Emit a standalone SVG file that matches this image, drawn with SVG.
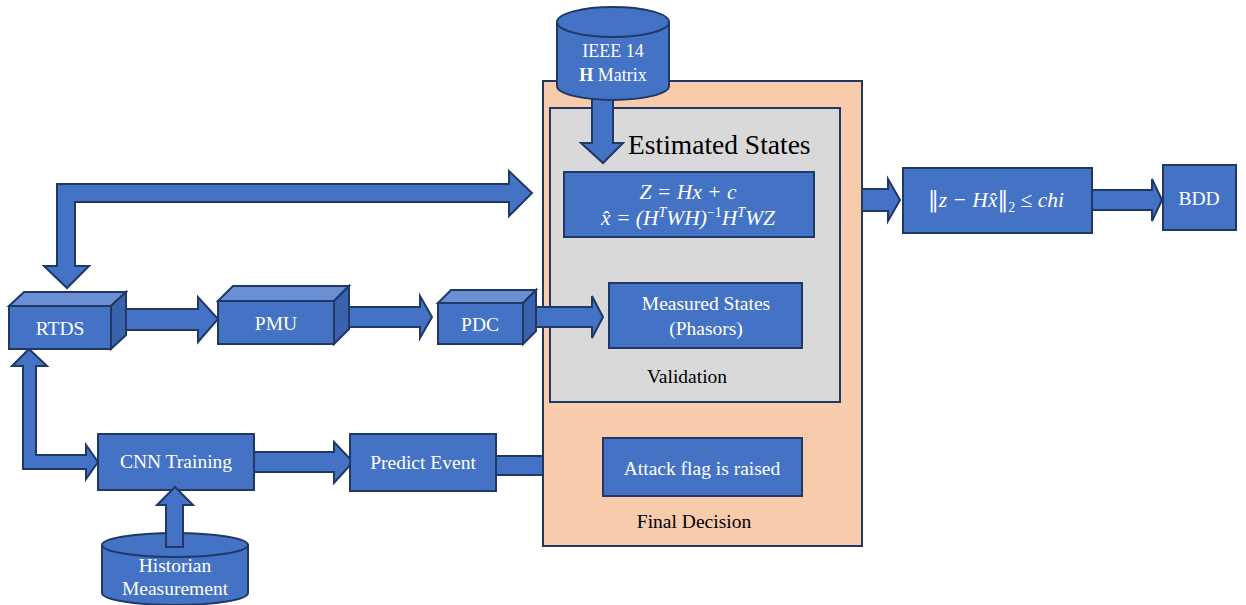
<svg xmlns="http://www.w3.org/2000/svg" width="1246" height="605" viewBox="0 0 1246 605">
<defs>
<style>
.blk{fill:#4472C4;stroke:#1F3864;stroke-width:2;stroke-linejoin:miter}
.top{fill:#6A8FD3;stroke:#1F3864;stroke-width:2;stroke-linejoin:miter}
.side{fill:#3A62AD;stroke:#1F3864;stroke-width:2;stroke-linejoin:miter}
.arr{fill:#4472C4;stroke:#1F3864;stroke-width:2;stroke-linejoin:miter}
.wt{font-family:"Liberation Serif","Times New Roman",serif;font-size:19.5px;fill:#FFFFFF;text-anchor:middle}
.bt{font-family:"Liberation Serif","Times New Roman",serif;font-size:19.5px;fill:#000000;text-anchor:middle}
.math{font-family:"Liberation Serif","DejaVu Serif",serif;font-style:italic;font-size:21.5px;fill:#FFFFFF;text-anchor:middle}
.nrm{font-family:"DejaVu Serif",serif;font-style:normal}
</style>
</defs>
<rect width="1246" height="605" fill="#FFFFFF"/>

<!-- connector behind orange container -->
<g id="connectors-back">
<rect class="arr" x="496" y="456" width="52" height="19"/>
</g>

<g id="final-decision">
<rect x="543" y="81" width="319" height="465" fill="#F8CBAD" stroke="#1F3864" stroke-width="2"/>
<text class="bt" x="694" y="528">Final Decision</text>
</g>

<g id="validation">
<rect x="550" y="108" width="290" height="294" fill="#D9D9D9" stroke="#1F3864" stroke-width="2"/>
<text class="bt" x="687" y="383">Validation</text>
</g>

<g id="connectors">
<polygon class="arr" points="57,184 509,184 509,171 532,193 509,216 509,202 75,202 75,266 89,266 67,288 44,266 57,266"/>
<polygon class="arr" points="118,309 198,309 198,297 218,319 198,342 198,330 118,330"/>
<polygon class="arr" points="343,307 420,307 420,296 432,317 420,338 420,327 343,327"/>
<polygon class="arr" points="530,307 592,307 592,296 603,317 592,338 592,327 530,327"/>
<polygon class="arr" points="29,349 47,366 36,366 36,455 86,455 86,445 98,462 86,479 86,469 23,469 23,366 12,366"/>
<polygon class="arr" points="249,452 334,452 334,442 353,462 334,483 334,472 249,472"/>
<polygon class="arr" points="592,92 613,92 613,143 623,143 603,163 581,143 592,143"/>
<polygon class="arr" points="862,189 888,189 888,179 900,200 888,221 888,211 862,211"/>
<polygon class="arr" points="1092,190 1152,190 1152,179 1162,200 1152,221 1152,210 1092,210"/>
</g>

<g id="ieee14">
<path class="blk" d="M557,22 V86 A56,14 0 0 0 669,86 V22"/>
<ellipse class="blk" cx="613" cy="22" rx="56" ry="15"/>
<text class="wt" x="613" y="57" style="font-size:18px">IEEE 14</text>
<text class="wt" x="613" y="81" style="font-size:18px"><tspan font-weight="bold">H</tspan> Matrix</text>
</g>

<g id="estimated-states">
<text x="628" y="154" font-family="Liberation Serif, Times New Roman, serif" font-size="27.5" fill="#000000">Estimated States</text>
<rect class="blk" x="564" y="172" width="250" height="65"/>
<text class="math" x="688" y="199">Z = Hx + c</text>
<text class="math" x="688" y="225">x̂ = (H<tspan font-size="14" dy="-8">T</tspan><tspan dy="8">WH)</tspan><tspan font-style="normal" font-size="14" dy="-8">−1</tspan><tspan dy="8">H</tspan><tspan font-size="14" dy="-8">T</tspan><tspan dy="8">WZ</tspan></text>
</g>

<g id="measured-states">
<rect class="blk" x="609" y="283" width="193" height="65"/>
<text class="wt" x="706" y="310">Measured States</text>
<text class="wt" x="706" y="335">(Phasors)</text>
</g>

<g id="attack-flag">
<rect class="blk" x="603" y="438" width="199" height="58"/>
<text class="wt" x="702" y="475">Attack flag is raised</text>
</g>

<g id="rtds">
<rect class="blk" x="9" y="306" width="102" height="43"/>
<polygon class="top" points="9,306 24,292 126,292 111,306"/>
<polygon class="side" points="111,306 126,292 126,335 111,349"/>
<text class="wt" x="60" y="335">RTDS</text>
</g>

<g id="pmu">
<rect class="blk" x="218" y="301" width="116" height="43"/>
<polygon class="top" points="218,301 233,286 349,286 334,301"/>
<polygon class="side" points="334,301 349,286 349,329 334,344"/>
<text class="wt" x="276" y="330">PMU</text>
</g>

<g id="pdc">
<rect class="blk" x="438" y="303" width="85" height="41"/>
<polygon class="top" points="438,303 451,290 536,290 523,303"/>
<polygon class="side" points="523,303 536,290 536,331 523,344"/>
<text class="wt" x="480" y="331">PDC</text>
</g>

<g id="cnn-training">
<rect class="blk" x="98" y="434" width="156" height="56"/>
<text class="wt" x="176" y="468">CNN Training</text>
</g>

<g id="predict-event">
<rect class="blk" x="350" y="434" width="146" height="57"/>
<text class="wt" x="423" y="469">Predict Event</text>
</g>

<g id="historian">
<path class="blk" d="M102,545 V593 A73,12 0 0 0 248,593 V545"/>
<ellipse class="blk" cx="175" cy="545" rx="73" ry="12"/>
<text class="wt" x="175" y="572">Historian</text>
<text class="wt" x="175" y="595">Measurement</text>
</g>

<g id="connector-historian">
<polygon class="arr" points="166,547 166,505 157,505 175,487 193,505 183,505 183,547"/>
</g>

<g id="chi-test">
<rect class="blk" x="903" y="168" width="189" height="65"/>
<text class="math" x="996" y="207"><tspan class="nrm">‖</tspan>z − Hx̂<tspan class="nrm">‖</tspan><tspan font-style="normal" font-size="14" dy="5">2</tspan><tspan dy="-5">  ≤ chi</tspan></text>
</g>

<g id="bdd">
<rect class="blk" x="1163" y="165" width="73" height="65"/>
<text class="wt" x="1199" y="205">BDD</text>
</g>
</svg>
